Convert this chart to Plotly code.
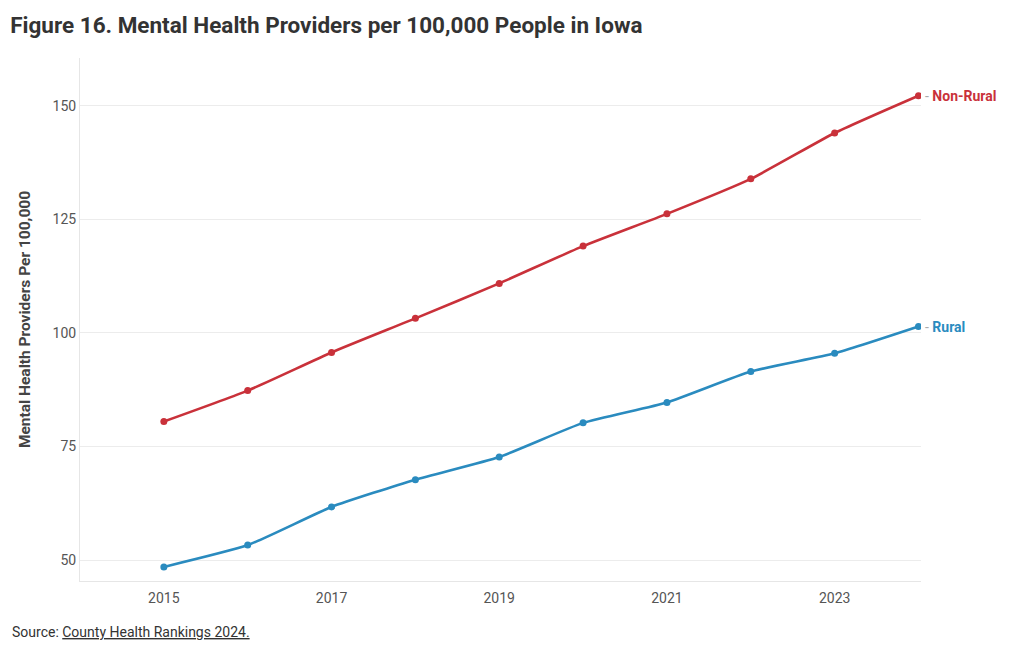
import plotly.graph_objects as go

years = [2015, 2016, 2017, 2018, 2019, 2020, 2021, 2022, 2023, 2024]
non_rural = [80.5, 87.3, 95.7, 103.2, 110.9, 119.1, 126.2, 133.9, 144.0, 152.2]
rural = [48.5, 53.3, 61.7, 67.7, 72.7, 80.2, 84.7, 91.5, 95.5, 101.4]
series_names = ["Non-Rural", "Rural"]
colors = ["#c9313a", "#2a8bbf"]
y_ticks = [50, 75, 100, 125, 150]
x_ticks = [2015, 2017, 2019, 2021, 2023]

fig = go.Figure()
for name, vals, col in zip(series_names, [non_rural, rural], colors):
    fig.add_trace(go.Scatter(
        x=years, y=vals, mode="lines+markers", name=name,
        line=dict(color=col, width=2.6, shape="spline", smoothing=0.5),
        marker=dict(color=col, size=7),
        hoverinfo="x+y",
    ))
    fig.add_annotation(
        x=years[-1], y=vals[-1], xref="x", yref="y",
        text=f"<span style='color:#aaaaaa'>-</span> <b>{name}</b>",
        showarrow=False, xanchor="left", yanchor="middle", xshift=5,
        font=dict(family="Roboto", size=14, color=col),
    )

fig.update_layout(
    width=1020, height=650,
    margin=dict(l=80, r=99, t=58, b=69),
    paper_bgcolor="white", plot_bgcolor="white",
    showlegend=False,
    font=dict(family="Roboto", color="#555555", size=14),
    title=dict(
        text="<b>Figure 16. Mental Health Providers per 100,000 People in Iowa</b>",
        x=0.01, xanchor="left", y=0.9615, yanchor="middle",
        font=dict(family="Roboto", size=22.5, color="#333333"),
    ),
)
fig.update_xaxes(
    range=[2014.0, 2024.03], tickvals=x_ticks, ticktext=[str(t) for t in x_ticks],
    showgrid=False, zeroline=False, showline=True, linecolor="#e6e6e6", linewidth=1,
    ticks="", tickfont=dict(size=14, color="#555555"), ticklabelstandoff=4,
)
fig.update_yaxes(
    range=[45.4, 160.5], tickvals=y_ticks, ticktext=[str(t) for t in y_ticks],
    showgrid=True, gridcolor="#ececec", gridwidth=1, zeroline=False,
    showline=True, linecolor="#e6e6e6", linewidth=1, ticks="",
    tickfont=dict(size=14, color="#555555"),
    title=dict(text="<b>Mental Health Providers Per 100,000</b>",
               font=dict(size=15.5, color="#444444"), standoff=18),
)
fig.add_annotation(
    xref="paper", yref="paper", x=-0.083, y=-0.117, xanchor="left", yanchor="bottom",
    text="Source: <u>County Health Rankings 2024.</u>", showarrow=False,
    font=dict(family="Roboto", size=14, color="#333333"),
)

fig.write_html("out.html")
